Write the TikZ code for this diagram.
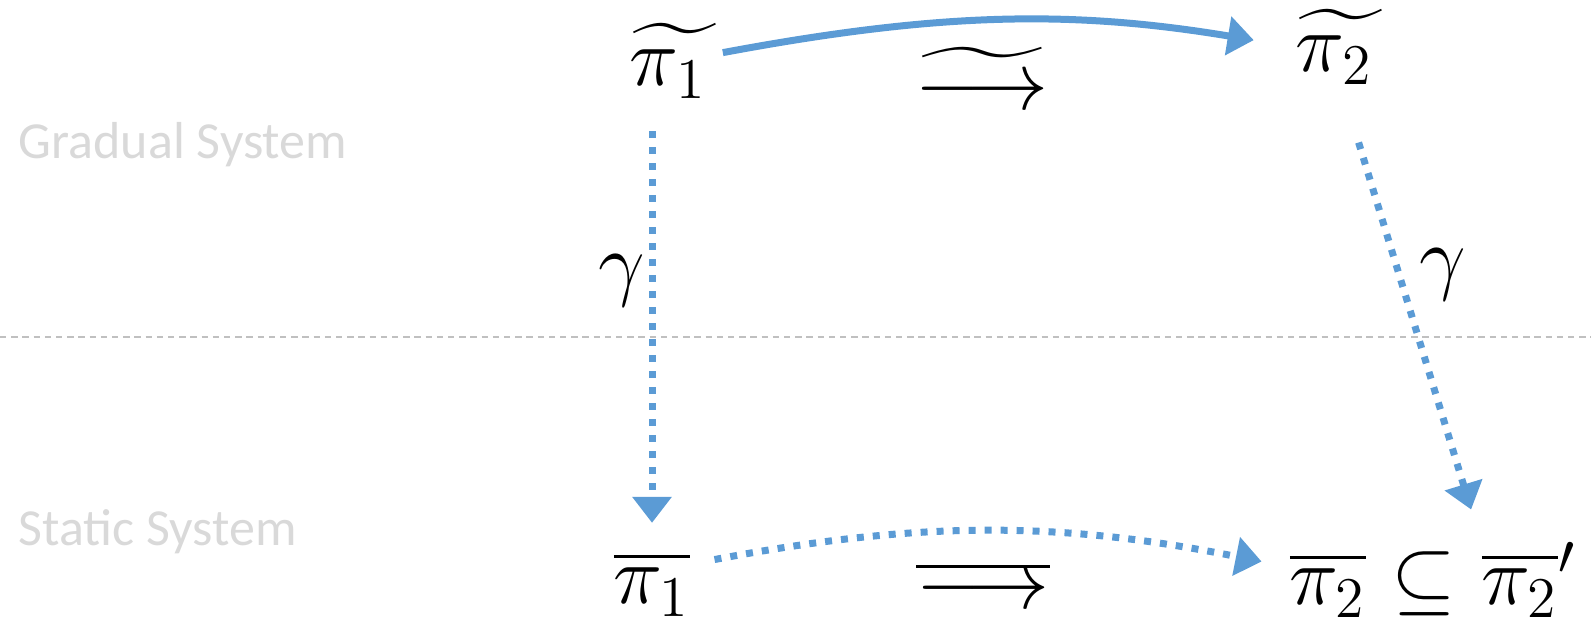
\documentclass[tikz,border=0pt]{standalone}
\usepackage{amsmath}
\usepackage{fontspec}
\newfontfamily\layerfont{Carlito}
\usetikzlibrary{arrows.meta}
\definecolor{mapblue}{HTML}{5B9BD5}
\definecolor{layergray}{HTML}{D9D9D9}
\definecolor{rulegray}{HTML}{C0C0C0}
\tikzset{
  term/.style={inner sep=0pt, font=\fontsize{20.5}{24}\selectfont},
  layer/.style={inner sep=0pt, anchor=base west, text=layergray, font=\layerfont\fontsize{13}{15}\selectfont},
  mapsto/.style={mapblue, line width=1.75pt, -{Triangle[length=6.5pt,width=9.5pt]}},
  dotmap/.style={mapsto, dash pattern=on 1.75pt off 2.25pt},
}
\begin{document}
\begin{tikzpicture}[x=0.25pt, y=-0.25pt]
    \useasboundingbox (0,0) rectangle (1591,621);

    % Layers
    \draw[rulegray, line width=0.4pt, dash pattern=on 1.6pt off 1.2pt] (0,337) -- (1591,337);
    \node[layer] (gradual) at (18,158) {Gradual System};
    \node[layer] (static) at (18,545) {Static System};

    % Gradual terms
    \node[term] (t1) at (675,61) {$\widetilde{\pi_1\mkern3mu}$};
    \node[term] (t2) at (1341,47) {$\widetilde{\pi_2\mkern3mu}$};
    \node[term] (tstep) at (982,78) {$\widetilde{\longrightarrow}$};

    % Static terms
    \node[term] (b1) at (652,584) {$\overline{\pi_1}$};
    \node[term] (b2) at (1328,585) {$\overline{\pi_2}$};
    \node[term, anchor=base west] (sub) at ([xshift=6pt]b2.base east) {$\subseteq$};
    \node[term, anchor=base west] (b2p) at ([xshift=6pt]sub.base east) {$\overline{\pi_2}'$};
    \node[term] (bstep) at (983,585) {$\overline{\longrightarrow}$};

    % Steps
    \draw[mapsto, shorten <=0.5pt, shorten >=10.5pt] ([yshift=2pt]t1.east) to[bend left=10] (t2.west);
    \draw[dotmap, shorten <=6pt, shorten >=7pt] ([yshift=5pt]b1.east) to[bend left=11] ([yshift=4.5pt]b2.west);

    % Concretization
    \draw[dotmap, shorten <=8pt, shorten >=7pt] (t1.south -| b1.north) -- (b1.north);
    \draw[dotmap, shorten <=15pt, shorten >=8.5pt] (t2.south) -- (b2p.north west);
    \node[term] (g1) at (622,281) {$\gamma$};
    \node[term] (g2) at (1443,275) {$\gamma$};
\end{tikzpicture}
\end{document}
